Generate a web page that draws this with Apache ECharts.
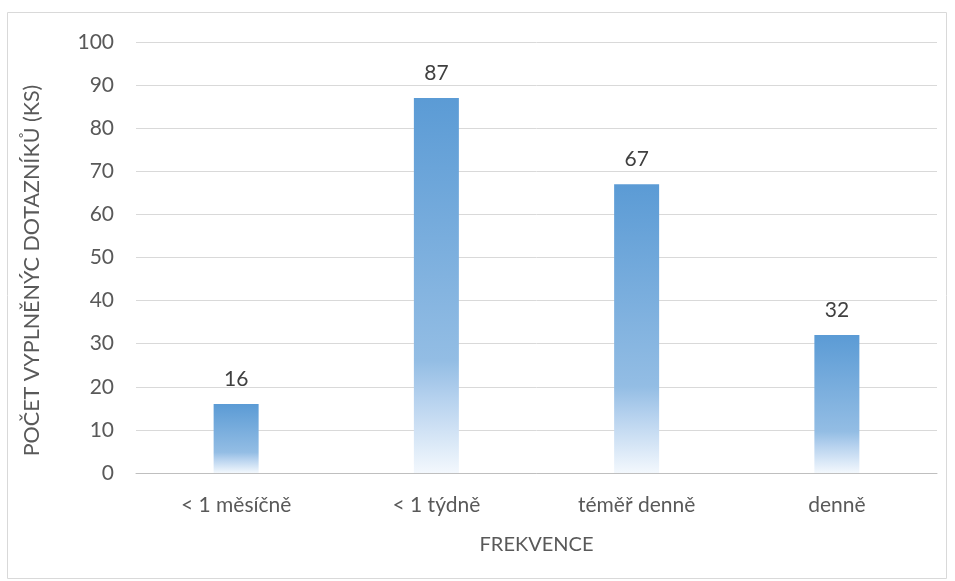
<!DOCTYPE html>
<html>
<head>
<meta charset="utf-8">
<script src="https://cdn.jsdelivr.net/npm/echarts@6/dist/echarts.min.js"></script>
<style>
  html, body { margin: 0; padding: 0; background: #fff; }
  #chart { width: 955px; height: 581px; }
</style>
</head>
<body>
<div id="chart"></div>
<script>
// data
const categories = ['< 1 měsíčně', '< 1 týdně', 'téměř denně', 'denně'];
const counts = [16, 87, 67, 32];
const yTicks = { min: 0, max: 100, step: 10 };

const barFill = new echarts.graphic.LinearGradient(0, 0, 0, 1, [
  { offset: 0, color: '#5b9bd5' },
  { offset: 0.7, color: '#93bde4' },
  { offset: 0.8, color: '#b5d1ee' },
  { offset: 1, color: '#f3f8fd' }
]);

const fs = 21;
const chart = echarts.init(document.getElementById('chart'));
chart.setOption({
  animation: false,
  textStyle: { fontFamily: 'Lato' },
  graphic: [{
    type: 'rect',
    shape: { x: 7.5, y: 12.5, width: 939, height: 566 },
    style: { fill: 'none', stroke: '#d9d9d9', lineWidth: 1 },
    silent: true
  }],
  grid: { left: 136, right: 18, top: 42, bottom: 108 },
  xAxis: {
    type: 'category',
    data: categories,
    name: 'FREKVENCE',
    nameLocation: 'middle',
    nameGap: 62,
    nameTextStyle: { fontSize: fs - 1, color: '#595959' },
    axisLine: { lineStyle: { color: '#bfbfbf', width: 1 } },
    axisTick: { show: false },
    axisLabel: { fontSize: fs, color: '#595959', margin: 22 }
  },
  yAxis: {
    type: 'value',
    min: yTicks.min,
    max: yTicks.max,
    interval: yTicks.step,
    name: 'POČET VYPLNĚNÝC DOTAZNÍKŮ (KS)',
    nameLocation: 'middle',
    nameGap: 93,
    nameTextStyle: { fontSize: fs + 0.5, color: '#595959', padding: [0, 26, 0, 0] },
    axisLine: { show: false },
    axisTick: { show: false },
    axisLabel: { fontSize: fs, color: '#595959', margin: 22 },
    splitLine: { lineStyle: { color: '#d9d9d9', width: 1 } }
  },
  series: [{
    type: 'bar',
    data: counts,
    barWidth: 45,
    itemStyle: { color: barFill },
    label: {
      show: true,
      position: 'top',
      distance: 14,
      fontSize: fs,
      color: '#404040'
    }
  }]
});
</script>
</body>
</html>
